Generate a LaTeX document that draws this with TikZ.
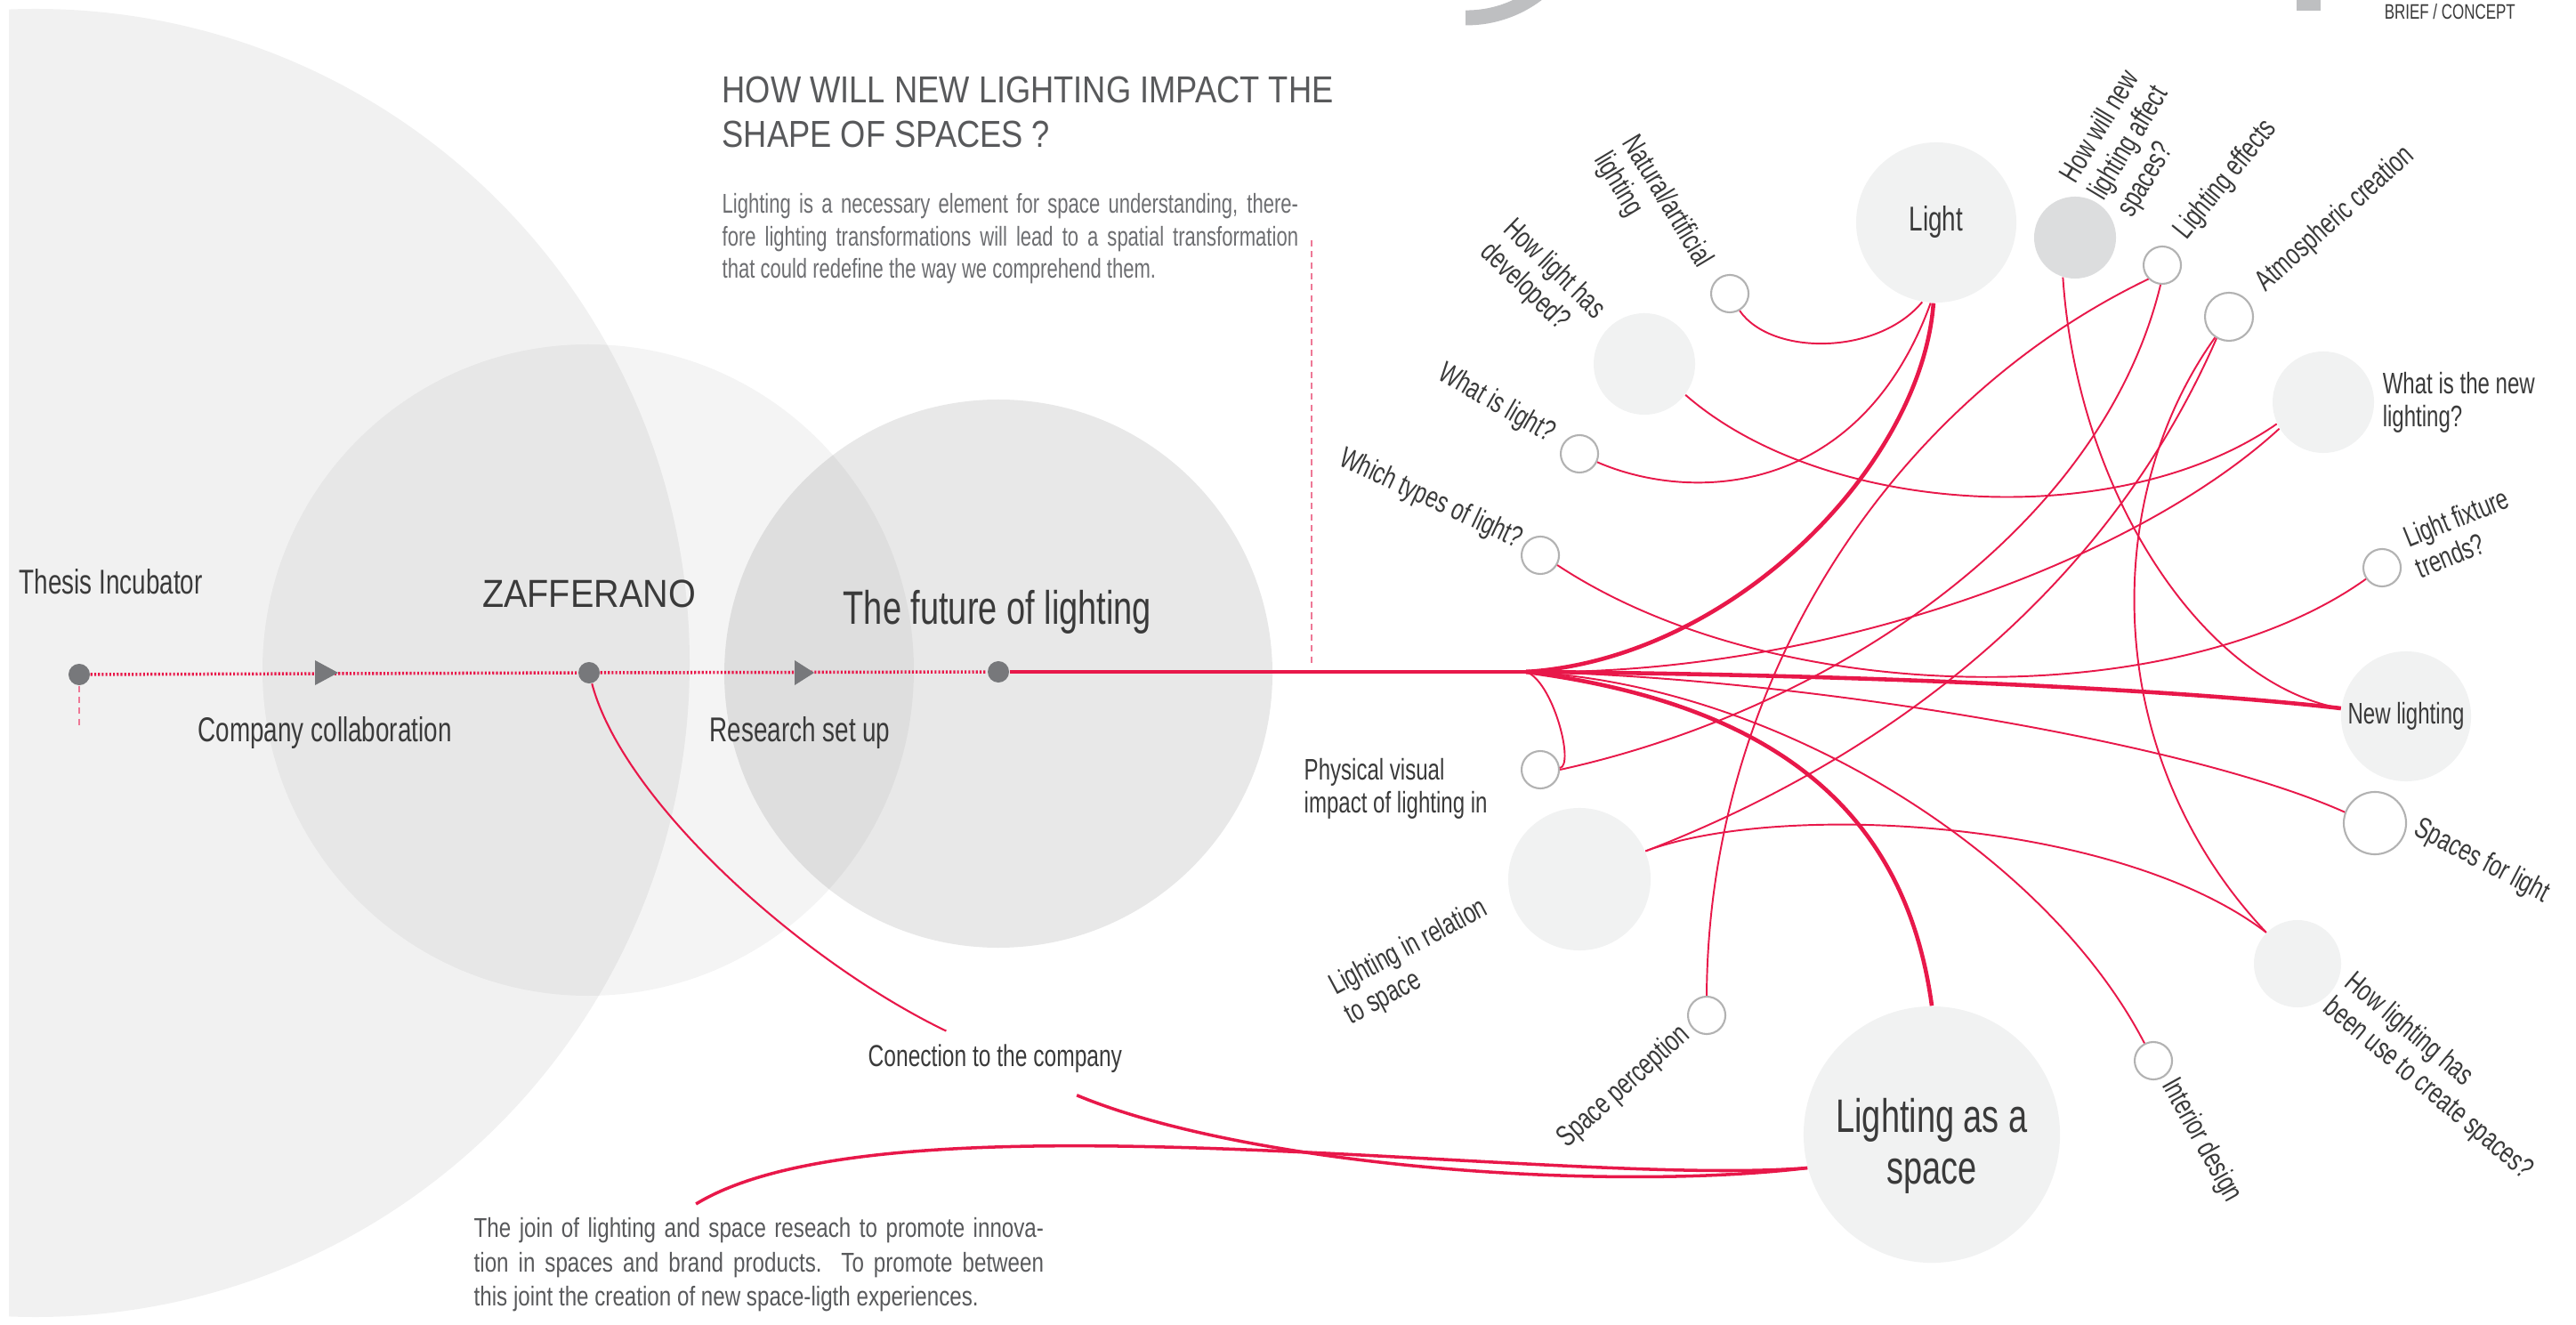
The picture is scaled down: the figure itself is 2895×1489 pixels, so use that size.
\documentclass[tikz,border=0pt]{standalone}
\usepackage{fontspec}
\setmainfont{Liberation Sans}[FakeStretch=0.72]
\newfontfamily\headfont{Liberation Sans}[FakeStretch=0.86]
\newfontfamily\zafffont{Liberation Sans}[FakeStretch=0.9]
\newfontfamily\parafont{Liberation Sans}[FakeStretch=0.79]
\usepackage{xcolor}
\usepackage{tikz}
\usetikzlibrary{positioning}
\definecolor{zred}{RGB}{232,24,74}
\definecolor{zpink}{RGB}{238,120,150}
\definecolor{qfill}{RGB}{241,242,242}
\definecolor{qdark}{RGB}{220,221,222}
\definecolor{ring}{RGB}{178,178,178}
\definecolor{dotgray}{RGB}{119,120,123}
\definecolor{txt}{RGB}{58,58,58}
\definecolor{headgray}{RGB}{88,89,91}
\definecolor{paragray}{RGB}{109,110,113}
\definecolor{topgray}{RGB}{190,191,193}
\tikzstyle{bq}=[%
      circle, fill=qfill, inner sep=0pt, text=txt
]
\tikzstyle{sq}=[%
      circle, draw=ring, line width=0.6pt, fill=white, inner sep=0pt, minimum size=0.42cm
]
\tikzstyle{dt}=[%
      circle, fill=dotgray, inner sep=0pt, minimum size=0.24cm
]
\tikzstyle{lb}=[%
      inner sep=0pt, text=txt, font=\fontsize{9.5}{10.5}\selectfont, align=left
]
\tikzstyle{tl}=[%
      inner sep=0pt, text=txt, font=\fontsize{11}{13}\selectfont
]
\tikzstyle{rl}=[zred, line width=0.55pt]
\tikzstyle{rlb}=[zred, line width=1.3pt]

\begin{document}
\begin{tikzpicture}[x=0.01cm, y=-0.01cm]
    \useasboundingbox (0,0) rectangle (2895,1489);

    \begin{scope}
      \clip (10,0) rectangle (2895,1489);
      \fill[black, fill opacity=0.055] (40,745) circle[radius=735];
      \fill[black, fill opacity=0.045] (661,753) circle[radius=366];
      \fill[black, fill opacity=0.09] (1122,757) circle[radius=308];
    \end{scope}

    \begin{scope}
      \clip (1647,0) rectangle (1800,60);
      \draw[topgray, line width=4.8pt] (1648,-112) circle[radius=132];
    \end{scope}
    \fill[topgray] (2581,0) rectangle (2608,12);
    \node[anchor=base west, inner sep=0pt, text=txt, font=\fontsize{6.7}{8}\selectfont] (brief) at (2679,22) {BRIEF / CONCEPT};

    \node[anchor=north west, inner sep=0pt, text=headgray, align=left,
          font=\headfont\fontsize{12}{14.2}\selectfont] (title) at (811,85)
          {HOW WILL NEW LIGHTING IMPACT THE\\SHAPE OF SPACES ?};
    \node[anchor=north west, inner sep=0pt, text=paragray, align=left,
          font=\fontsize{8.7}{10.3}\selectfont] (intro) at (811,217)
          {\makebox[6.47cm][s]{Lighting is a necessary element for space understanding, there-}\\
           \makebox[6.47cm][s]{fore lighting transformations will lead to a spatial transformation}\\
           that could redefine the way we comprehend them.};
    \node[anchor=north west, inner sep=0pt, text=headgray, align=left,
          font=\parafont\fontsize{8.7}{10.95}\selectfont] (para) at (532,1368)
          {\makebox[6.40cm][s]{The join of lighting and space reseach to promote innova-}\\
           \makebox[6.40cm][s]{tion in spaces and brand products. To promote between}\\
           this joint the creation of new space-ligth experiences.};

    % timeline
    \node[dt] (inc) at (89,758) {};
    \node[dt] (zaf) at (662,756) {};
    \node[dt] (fut) at (1122,755) {};
    \coordinate (tri1) at (367,756);
    \coordinate (tri2) at (902,756);
    \coordinate (hub) at (1715,755);
    \coordinate (vtop) at (1474,270);
    \coordinate (vbot) at (1474,748);
    \coordinate (itail) at (89,815);

    \draw[zred, line width=1pt, dash pattern=on 0.6pt off 0.6pt] (inc) -- (zaf) -- (fut);
    \draw[zpink, line width=0.4pt, dash pattern=on 2pt off 1.5pt] (inc.south) -- (itail);
    \draw[zpink, line width=0.4pt, dash pattern=on 2pt off 1.5pt] (vtop) -- (vbot);
    \fill[dotgray] (tri1) ++(-13,-14) -- ++(26,14) -- ++(-26,14) -- cycle;
    \fill[dotgray] (tri2) ++(-9,-14) -- ++(22,14) -- ++(-22,14) -- cycle;
    \draw[zred, line width=1.4pt] (fut) -- (hub);

    \node[tl, anchor=base west] (incl) at (21,668) {Thesis Incubator};
    \node[tl, anchor=base west] (coll) at (222,833) {Company collaboration};
    \node[tl, anchor=base west] (resl) at (797,833) {Research set up};
    \node[anchor=base, inner sep=0pt, text=txt, font=\zafffont\fontsize{12.5}{14}\selectfont] (zafl) at (662,683) {ZAFFERANO};
    \node[tl, anchor=base west, font=\fontsize{15}{17}\selectfont] (futl) at (947,702) {The future of lighting};
    \node[tl, anchor=base west, font=\fontsize{9.7}{11}\selectfont] (conn) at (975,1198) {Conection to the company};

    % map
    \node[bq, minimum size=1.8cm, font=\fontsize{11}{13}\selectfont] (light) at (2176,250) {Light};
    \node[circle, fill=qdark, inner sep=0pt, minimum size=0.92cm] (affect) at (2332,267) {};
    \node[sq] (effects) at (2430,298) {};
    \node[sq, minimum size=0.54cm] (atmos) at (2505,356) {};
    \node[bq, minimum size=1.14cm] (newq) at (2611,452) {};
    \node[sq] (fixture) at (2677,638) {};
    \node[bq, minimum size=1.46cm, font=\fontsize{9.5}{10.5}\selectfont] (newl) at (2704,805) {New lighting};
    \node[sq, minimum size=0.7cm] (spaces) at (2669,925) {};
    \node[bq, minimum size=0.98cm] (howused) at (2582,1083) {};
    \node[sq] (interior) at (2420,1192) {};
    \node[bq, minimum size=2.88cm] (asspace) at (2171,1275) {};
    \node[inner sep=0pt, text=txt, align=center, font=\fontsize{15}{16.5}\selectfont] (asspacel) at (2171,1288) {Lighting as a\\space};
    \node[sq] (perception) at (1918,1141) {};
    \node[bq, minimum size=1.6cm] (relation) at (1775,988) {};
    \node[sq] (physical) at (1731,865) {};
    \node[sq] (types) at (1731,624) {};
    \node[sq] (whatis) at (1775,510) {};
    \node[bq, minimum size=1.14cm] (developed) at (1848,409) {};
    \node[sq] (natural) at (1944,330) {};

    \node[lb, rotate=-59, anchor=north east] (natl) at (1930,290) {Natural/artificial\\lighting};
    \node[lb, rotate=-44, anchor=north east] (devl) at (1810,342) {How light has\\developed?};
    \node[lb, rotate=-30, anchor=mid east] (whatl) at (1745,490) {What is light?};
    \node[lb, rotate=-25, anchor=mid east] (typesl) at (1709,608) {Which types of light?};
    \node[lb, rotate=59, anchor=north west] (affl) at (2311,195) {How will new\\lighting affect\\spaces?};
    \node[lb, rotate=51, anchor=mid west] (effl) at (2450,265) {Lighting effects};
    \node[lb, rotate=42, anchor=mid west] (atml) at (2540,322) {Atmospheric creation};
    \node[lb, anchor=north west] (newql) at (2677,418) {What is the new\\lighting?};
    \node[lb, rotate=22, anchor=north west] (fixl) at (2697,593) {Light fixture\\trends?};
    \node[lb, rotate=-27.5, anchor=mid west] (spl) at (2715,929) {Spaces for light};
    \node[lb, rotate=-40, anchor=north west] (usedl) at (2649,1088) {How lighting has\\been use to create spaces?};
    \node[lb, rotate=-61, anchor=mid west] (intl) at (2437,1214) {Interior design};
    \node[lb, rotate=42, anchor=mid east] (perl) at (1895,1158) {Space perception};
    \node[lb, rotate=28, anchor=north west] (rell) at (1489,1097) {Lighting in relation\\to space};
    \node[lb, anchor=north west] (phyl) at (1465,852) {Physical visual\\impact of lighting in};

    \draw[rl] (natural.-60) .. controls (1990,400) and (2110,400) .. (light.260);
    \draw[rl] (light.266) .. controls (2090,560) and (1900,565) .. (whatis.-25);
    \draw[rl] (developed.-37) .. controls (2050,580) and (2380,600) .. (newq.205);
    \draw[rl] (types.-30) .. controls (2000,800) and (2450,800) .. (fixture.215);
    \draw[rl] (effects.225) .. controls (2130,450) and (1920,760) .. (perception.90);
    \draw[rl] (effects.265) .. controls (2360,600) and (2050,800) .. (physical.0);
    \draw[rl] (affect.253) .. controls (2335,560) and (2480,770) .. (newl.173);
    \draw[rl] (atmos.236) .. controls (2360,560) and (2360,850) .. (howused.135);
    \draw[rl] (atmos.240) .. controls (2360,680) and (2100,860) .. (relation.23);
    \draw[rl] (relation.23) .. controls (2000,900) and (2380,920) .. (howused.135);
    \draw[rl] (hub) .. controls (2050,760) and (2400,630) .. (newq.211);
    \draw[rl] (hub) .. controls (1745,765) and (1770,860) .. (physical.5);
    \draw[rl] (hub) .. controls (2000,760) and (2450,830) .. (spaces.160);
    \draw[rl] (hub) .. controls (2000,770) and (2300,960) .. (interior.117);
    \draw[rlb] (hub) .. controls (1950,740) and (2160,520) .. (light.268);
    \draw[rlb] (hub) .. controls (2100,758) and (2450,775) .. (newl.173);
    \draw[rlb] (hub) .. controls (1980,790) and (2140,900) .. (asspace.90);

    \draw[zred, line width=0.6pt] (zaf.-75) .. controls (700,900) and (900,1080) .. ([xshift=-0.55cm,yshift=0.14cm]conn.north);
    \draw[zred, line width=1pt] ([xshift=2.35cm,yshift=-0.25cm]conn.south west) .. controls (1400,1310) and (1800,1340) .. (asspace.195);
    \draw[zred, line width=1pt] ([xshift=2.5cm,yshift=0.15cm]para.north west) .. controls (1000,1220) and (1750,1335) .. (asspace.195);
\end{tikzpicture}
\end{document}
